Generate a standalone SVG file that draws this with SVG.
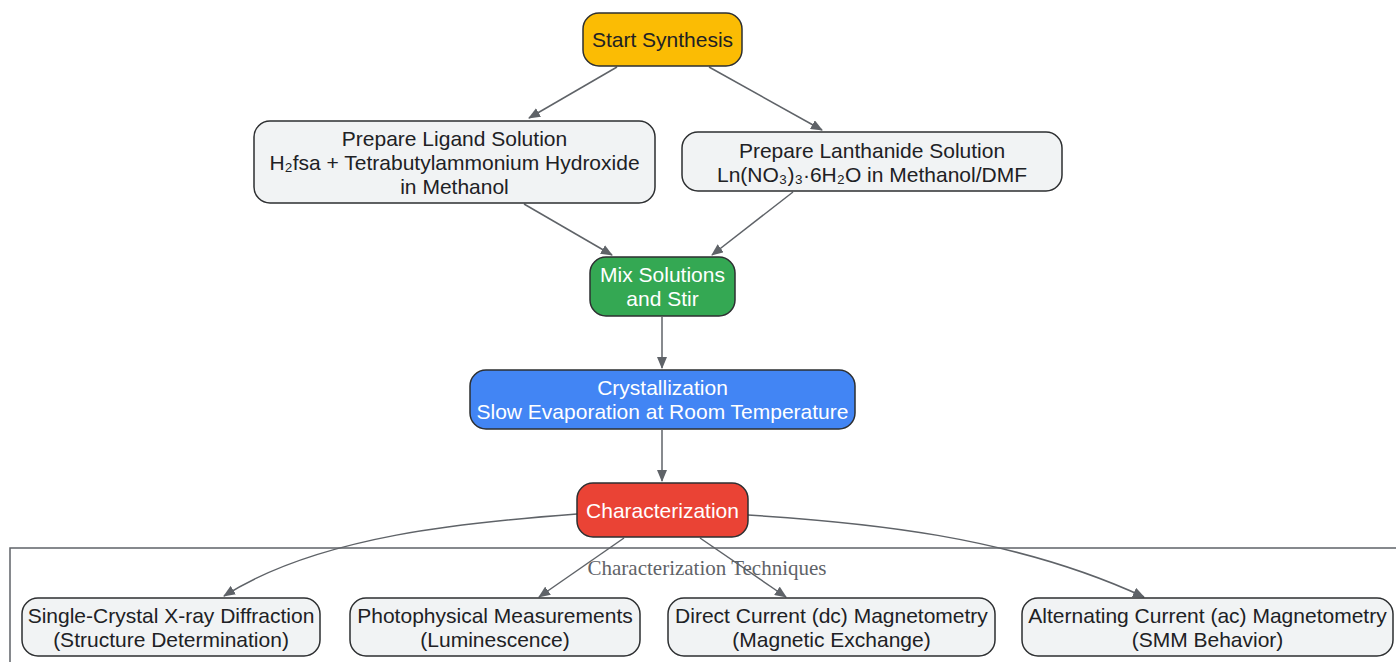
<svg xmlns="http://www.w3.org/2000/svg" width="1396" height="662" viewBox="0 0 1396 662">
<style>
.n{stroke:#2d2f31;stroke-width:1.5}
.t{font-family:"Liberation Sans",Arial,sans-serif;font-size:21px;text-anchor:middle;fill:#202124}
.w{fill:#ffffff}
.e{fill:none;stroke:#5f6368;stroke-width:1.5}
.cl{fill:none;stroke:#5f6368;stroke-width:1.5}
.ct{font-family:"Liberation Serif","Times New Roman",serif;font-size:21px;text-anchor:middle;fill:#5f6368}
</style>
<defs>
<marker id="a" viewBox="0 0 12 10" refX="11" refY="5" markerWidth="12" markerHeight="10" markerUnits="userSpaceOnUse" orient="auto">
<path d="M0,0 L12,5 L0,10 z" fill="#5f6368"/>
</marker>
</defs>
<rect x="0" y="0" width="1396" height="662" fill="#ffffff"/>
<g id="cluster">
<rect class="cl" x="10" y="548" width="1400" height="130"/>
<text class="ct" x="707" y="575">Characterization Techniques</text>
</g>
<g id="edges">
<path class="e" d="M617,67 L529,118" marker-end="url(#a)"/>
<path class="e" d="M709,67 L822,130" marker-end="url(#a)"/>
<path class="e" d="M524,204 L612,255" marker-end="url(#a)"/>
<path class="e" d="M793,192 L712,255" marker-end="url(#a)"/>
<path class="e" d="M662,317 L662,368" marker-end="url(#a)"/>
<path class="e" d="M662,430 L662,481" marker-end="url(#a)"/>
<path class="e" d="M577,514 C470,522 320,535 224,596" marker-end="url(#a)"/>
<path class="e" d="M624,538 L539,597" marker-end="url(#a)"/>
<path class="e" d="M700,538 L786,597" marker-end="url(#a)"/>
<path class="e" d="M748,515 C860,522 1010,535 1144,597" marker-end="url(#a)"/>
</g>
<g id="start">
<rect class="n" x="583" y="13" width="159" height="53" rx="16" fill="#fbbc04"/>
<text class="t" x="662.5" y="47">Start Synthesis</text>
</g>
<g id="ligand">
<rect class="n" x="254" y="121" width="401" height="82" rx="16" fill="#f1f3f4"/>
<text class="t" x="454.5" y="146">Prepare Ligand Solution</text>
<text class="t" x="454.5" y="170">H₂fsa + Tetrabutylammonium Hydroxide</text>
<text class="t" x="454.5" y="194">in Methanol</text>
</g>
<g id="lanthanide">
<rect class="n" x="682" y="132" width="380" height="59" rx="16" fill="#f1f3f4"/>
<text class="t" x="872" y="158">Prepare Lanthanide Solution</text>
<text class="t" x="872" y="182">Ln(NO₃)₃·6H₂O in Methanol/DMF</text>
</g>
<g id="mix">
<rect class="n" x="590" y="257" width="145" height="59" rx="16" fill="#34a853"/>
<text class="t w" x="662.5" y="282">Mix Solutions</text>
<text class="t w" x="662.5" y="306">and Stir</text>
</g>
<g id="crystallization">
<rect class="n" x="470" y="370" width="385" height="59" rx="16" fill="#4285f4"/>
<text class="t w" x="662.5" y="395">Crystallization</text>
<text class="t w" x="662.5" y="419">Slow Evaporation at Room Temperature</text>
</g>
<g id="characterization">
<rect class="n" x="577" y="483" width="171" height="54" rx="16" fill="#ea4335"/>
<text class="t w" x="662.5" y="518">Characterization</text>
</g>
<g id="xrd">
<rect class="n" x="22" y="598" width="298" height="58" rx="16" fill="#f1f3f4"/>
<text class="t" x="171" y="623">Single-Crystal X-ray Diffraction</text>
<text class="t" x="171" y="647">(Structure Determination)</text>
</g>
<g id="photo">
<rect class="n" x="350" y="598" width="290" height="58" rx="16" fill="#f1f3f4"/>
<text class="t" x="495" y="623">Photophysical Measurements</text>
<text class="t" x="495" y="647">(Luminescence)</text>
</g>
<g id="dc">
<rect class="n" x="668" y="598" width="327" height="58" rx="16" fill="#f1f3f4"/>
<text class="t" x="831.5" y="623">Direct Current (dc) Magnetometry</text>
<text class="t" x="831.5" y="647">(Magnetic Exchange)</text>
</g>
<g id="ac">
<rect class="n" x="1022" y="598" width="371" height="58" rx="16" fill="#f1f3f4"/>
<text class="t" x="1207.5" y="623">Alternating Current (ac) Magnetometry</text>
<text class="t" x="1207.5" y="647">(SMM Behavior)</text>
</g>
</svg>
